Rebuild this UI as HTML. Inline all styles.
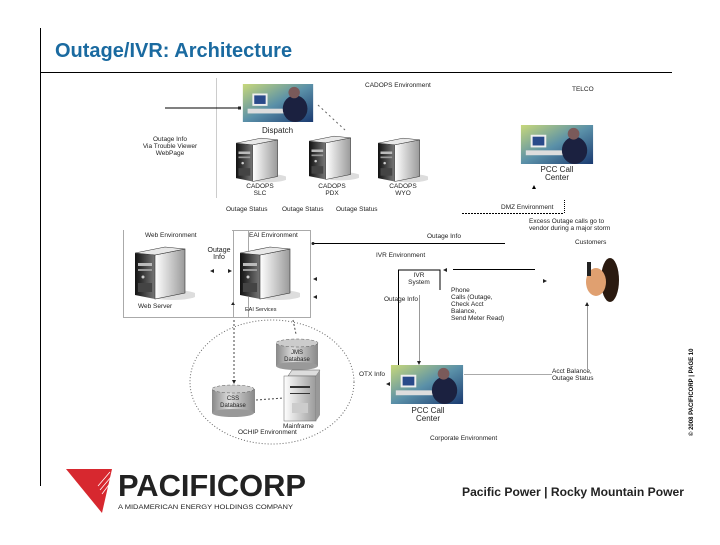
<!DOCTYPE html>
<html><head><meta charset="utf-8"><style>
body{margin:0;width:720px;height:540px;background:#fff;overflow:hidden;font-family:"Liberation Sans",sans-serif}
svg text{font-family:"Liberation Sans",sans-serif}
</style></head><body>
<svg width="720" height="540" viewBox="0 0 720 540" xmlns="http://www.w3.org/2000/svg">
<defs>
<linearGradient id="side" x1="0" x2="1"><stop offset="0" stop-color="#fff"/><stop offset="1" stop-color="#9a9a9a"/></linearGradient>
<linearGradient id="front" x1="0" x2="1"><stop offset="0" stop-color="#111"/><stop offset="1" stop-color="#777"/></linearGradient>
<linearGradient id="cyl" x1="0" x2="1"><stop offset="0" stop-color="#888"/><stop offset=".4" stop-color="#ddd"/><stop offset="1" stop-color="#888"/></linearGradient>
<linearGradient id="photo" x1="0" x2="1" y1="0" y2="1"><stop offset="0" stop-color="#c8d87a"/><stop offset=".5" stop-color="#5a90a8"/><stop offset="1" stop-color="#1a3a70"/></linearGradient>
<symbol id="srv" viewBox="0 0 60 58">
<ellipse cx="38" cy="52" rx="24" ry="5" fill="#ddd"/>
<polygon points="0,10 20,12 20,56 0,52" fill="url(#front)"/>
<polygon points="20,12 50,6 50,50 20,56" fill="url(#side)" stroke="#333" stroke-width=".6"/>
<polygon points="0,10 30,4 50,6 20,12" fill="#e8e8e8" stroke="#333" stroke-width=".6"/>
<rect x="3" y="20" width="14" height="3" fill="#bbb"/><rect x="3" y="26" width="14" height="2" fill="#999"/>
<circle cx="8" cy="34" r="1.5" fill="#ccc"/>
<rect x="3" y="40" width="14" height="9" fill="#444"/>
</symbol>
<symbol id="ph" viewBox="0 0 74 40">
<rect width="74" height="40" fill="url(#photo)"/>
<rect x="10" y="10" width="16" height="13" fill="#eee"/><rect x="12" y="12" width="12" height="9" fill="#2a4a8a"/>
<rect x="5" y="26" width="40" height="5" fill="#ddd"/>
<ellipse cx="55" cy="26" rx="13" ry="14" fill="#1b2140"/><circle cx="54" cy="9" r="6" fill="#7a5a5a"/>
</symbol>
</defs>
<line x1="40.5" y1="28" x2="40.5" y2="486" stroke="#000"/>
<line x1="40" y1="72.5" x2="672" y2="72.5" stroke="#000"/>
<text x="55" y="57" font-size="20" font-weight="bold" fill="#1a6aa0">Outage/IVR: Architecture</text>
<text transform="translate(693,436) rotate(-90)" font-size="6" font-weight="bold">© 2008 PACIFICORP | PAGE 10</text>

<g font-size="6.5" fill="#222">
<line x1="216.5" y1="78" x2="216.5" y2="198" stroke="#ccc"/>
<text x="365" y="87">CADOPS Environment</text><text x="572" y="91">TELCO</text>
<line x1="165" y1="108" x2="240" y2="108" stroke="#000"/><rect x="238" y="106.5" width="3" height="3"/>
<use href="#ph" x="242" y="84" width="72" height="38"/>
<text x="262" y="133" font-size="8">Dispatch</text>
<text x="170" y="141" text-anchor="middle">Outage Info</text><text x="170" y="148" text-anchor="middle">Via Trouble Viewer</text><text x="170" y="155" text-anchor="middle">WebPage</text>
<line x1="318" y1="105" x2="345" y2="130" stroke="#666" stroke-dasharray="2 3"/>
<use href="#srv" x="236" y="134" width="50" height="50"/>
<use href="#srv" x="309" y="132" width="50" height="50"/>
<use href="#srv" x="378" y="134" width="50" height="50"/>
<text x="260" y="188" text-anchor="middle">CADOPS</text><text x="260" y="195" text-anchor="middle">SLC</text>
<text x="332" y="188" text-anchor="middle">CADOPS</text><text x="332" y="195" text-anchor="middle">PDX</text>
<text x="403" y="188" text-anchor="middle">CADOPS</text><text x="403" y="195" text-anchor="middle">WYO</text>
<text x="226" y="211">Outage Status</text><text x="282" y="211">Outage Status</text><text x="336" y="211">Outage Status</text>
<use href="#ph" x="520" y="125" width="74" height="39"/>
<text x="557" y="172" text-anchor="middle" font-size="8">PCC Call</text><text x="557" y="180" text-anchor="middle" font-size="8">Center</text>
<polygon points="534,185 536,189 532,189" fill="#000"/>
<text x="501" y="209">DMZ Environment</text>
<line x1="462" y1="213.5" x2="564" y2="213.5" stroke="#000" stroke-dasharray="2 1"/><line x1="564.5" y1="200" x2="564.5" y2="213" stroke="#000" stroke-dasharray="1 1"/>
<text x="529" y="223">Excess Outage calls go to</text><text x="529" y="230">vendor during a major storm</text>
<text x="575" y="244">Customers</text>

<rect x="123.5" y="230.5" width="125" height="87" fill="none" stroke="#555" stroke-dasharray="1 1"/>
<rect x="233.5" y="230.5" width="77" height="87" fill="none" stroke="#555" stroke-dasharray="1 1"/>
<rect x="124" y="230" width="108" height="10" fill="#fff"/>
<text x="145" y="237">Web Environment</text><text x="249" y="237">EAI Environment</text>
<use href="#srv" x="135" y="243" width="60" height="58"/>
<use href="#srv" x="240" y="243" width="60" height="58"/>
<rect x="205" y="243" width="26" height="22" fill="#fff"/>
<text x="219" y="252" text-anchor="middle" font-size="7">Outage</text><text x="219" y="259" text-anchor="middle" font-size="7">Info</text>
<polygon points="210,271 214,269 214,273"/><polygon points="232,271 228,269 228,273"/>
<text x="138" y="308">Web Server</text><text x="245" y="311" font-size="5.5">EAI Services</text>
<polygon points="233,302 235,305 231,305"/>
<line x1="313" y1="243.5" x2="505" y2="243.5" stroke="#000"/><circle cx="313" cy="243.5" r="1.5"/>
<text x="427" y="238">Outage Info</text>
<text x="376" y="257">IVR Environment</text>
<polygon points="313,279 317,277 317,281"/><polygon points="313,297 317,295 317,299"/>
<line x1="398.5" y1="270" x2="398.5" y2="366" stroke="#000"/>
<path d="M398,270 H440 V290" fill="none" stroke="#000"/>
<line x1="453" y1="269.5" x2="535" y2="269.5" stroke="#000"/>
<polygon points="443,270 447,268 447,272"/><polygon points="547,281 543,279 543,283"/>
<text x="419" y="277" text-anchor="middle">IVR</text><text x="419" y="284" text-anchor="middle">System</text>
<line x1="419.5" y1="295" x2="419.5" y2="362" stroke="#999"/><polygon points="419,365 417,361 421,361"/>
<text x="384" y="301">Outage Info</text>
<text x="451" y="292">Phone</text><text x="451" y="299">Calls (Outage,</text><text x="451" y="306">Check Acct</text><text x="451" y="313">Balance,</text><text x="451" y="320">Send Meter Read)</text>
<use href="#ph" x="390" y="365" width="74" height="39"/>
<text x="359" y="376">OTX Info</text><polygon points="386,384 390,382 390,386"/>
<text x="428" y="413" text-anchor="middle" font-size="8">PCC Call</text><text x="428" y="421" text-anchor="middle" font-size="8">Center</text>
<line x1="464" y1="374.5" x2="552" y2="374.5" stroke="#aaa"/>
<text x="552" y="373">Acct Balance,</text><text x="552" y="380">Outage Status</text>
<line x1="587.5" y1="303" x2="587.5" y2="370" stroke="#999"/><polygon points="587,302 585,306 589,306"/>
<rect x="583" y="258" width="35" height="42" fill="#fff"/><ellipse cx="610" cy="280" rx="9" ry="22" fill="#2a1a10"/><ellipse cx="596" cy="282" rx="10" ry="14" fill="#e0a070"/><rect x="587" y="262" width="4" height="14" fill="#222"/>
<text x="430" y="440">Corporate Environment</text>

<ellipse cx="272" cy="382" rx="82" ry="62" fill="none" stroke="#666" stroke-dasharray="1 2"/>
<line x1="234" y1="320" x2="234" y2="380" stroke="#444" stroke-dasharray="2 2"/><polygon points="234,384 232,380 236,380"/>
<line x1="293" y1="320" x2="296" y2="334" stroke="#444" stroke-dasharray="2 2"/>
<g><rect x="276" y="343" width="42" height="23" fill="url(#cyl)"/><ellipse cx="297" cy="343" rx="21" ry="4" fill="#ccc" stroke="#555" stroke-width=".5" stroke-dasharray="3 2"/><ellipse cx="297" cy="366" rx="21" ry="4" fill="#999"/></g>
<text x="297" y="354" text-anchor="middle" font-size="6">JMS</text><text x="297" y="361" text-anchor="middle" font-size="6">Database</text>
<g><rect x="212" y="389" width="43" height="24" fill="url(#cyl)"/><ellipse cx="233" cy="389" rx="21" ry="4" fill="#ccc" stroke="#555" stroke-width=".5" stroke-dasharray="3 2"/><ellipse cx="233" cy="413" rx="21" ry="4" fill="#999"/></g>
<text x="233" y="400" text-anchor="middle" font-size="6">CSS</text><text x="233" y="407" text-anchor="middle" font-size="6">Database</text>
<line x1="256" y1="400" x2="284" y2="398" stroke="#444" stroke-dasharray="2 2"/>
<polygon points="288,376 316,376 320,370 292,370" fill="#ddd" stroke="#555" stroke-width=".5"/>
<rect x="284" y="376" width="32" height="45" fill="url(#side)" stroke="#666" stroke-width=".5"/><polygon points="316,376 320,370 320,415 316,421" fill="#999"/>
<rect x="290" y="386" width="20" height="2" fill="#333"/><rect x="290" y="393" width="20" height="1" fill="#333"/><rect x="292" y="403" width="16" height="10" fill="#ccc"/>
<text x="283" y="428">Mainframe</text><text x="238" y="434">OCHIP Environment</text>
</g>

<polygon points="66,469 112,469 102,513" fill="#d7282f"/>
<g stroke="#fff" stroke-width=".8"><line x1="98" y1="486" x2="110" y2="472"/><line x1="100" y1="490" x2="111" y2="477"/><line x1="102" y1="494" x2="111" y2="482"/></g>
<text x="118" y="496" font-size="31" font-weight="bold" fill="#222" textLength="188" lengthAdjust="spacingAndGlyphs">PACIFICORP</text>
<text x="118" y="509" font-size="6.5" fill="#222" textLength="175" lengthAdjust="spacingAndGlyphs">A MIDAMERICAN ENERGY HOLDINGS COMPANY</text>
<text x="462" y="496" font-size="11.5" font-weight="bold" fill="#222" textLength="222" lengthAdjust="spacingAndGlyphs">Pacific Power | Rocky Mountain Power</text>
</svg>
</body></html>
